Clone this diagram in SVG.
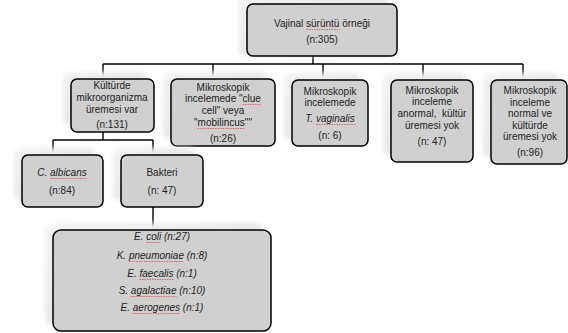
<svg xmlns="http://www.w3.org/2000/svg" width="568" height="333" viewBox="0 0 568 333">
<defs>
<filter id="sh" x="-20%" y="-20%" width="140%" height="140%"><feGaussianBlur stdDeviation="2.5"/></filter>
<linearGradient id="shg" x1="0" y1="0" x2="1" y2="1"><stop offset="0" stop-color="#f4f4f4"/><stop offset="1" stop-color="#dcdcdc"/></linearGradient>
</defs>
<style>
.box{fill:#d0d0d0;stroke:#000;stroke-width:1.5}
.shadow{fill:url(#shg);filter:url(#sh)}
.t{font-family:"Liberation Sans",Arial,sans-serif;font-size:10px;fill:#222;text-anchor:middle}
.i{font-style:italic}
.c{fill:none;stroke:#000;stroke-width:1.4}
.g{fill:none;stroke:#a8a8a8;stroke-width:1}
.sp{fill:none;stroke:#e04848;stroke-width:0.8;stroke-dasharray:1.5 1}
</style>
<g id="connectors">
<path class="c" d="M313,56V64M103,64H523M103,64V79M213,64V79M323,64V80M423,64V80M523,64V80"/>
<path class="c" d="M103,132V140M53,140H153M53,140V155M153,140V155"/>
<path class="c" d="M153,207V230"/>
<path class="g" d="M313,46V56M153,199V207"/>
</g>
<g id="n-root">
<rect class="shadow" x="239" y="-3" width="150" height="59" rx="6"/>
<rect class="box" x="247" y="4" width="150" height="52" rx="6"/>
<text class="t" x="322" y="27">Vajinal sürüntü örneği</text>
<text class="t" x="322" y="43">(n:305)</text>
</g>
<g id="n-kultur">
<rect class="shadow" x="63" y="72" width="83" height="53" rx="6"/>
<rect class="box" x="71" y="79" width="83" height="53" rx="6"/>
<text class="t" x="112" y="89">Kültürde</text>
<text class="t" x="112" y="101">mikroorganizma</text>
<text class="t" x="112" y="113">üremesi var</text>
<text class="t" x="112" y="128">(n:131)</text>
</g>
<g id="n-clue">
<rect class="shadow" x="163" y="72" width="104" height="67" rx="6"/>
<rect class="box" x="171" y="79" width="104" height="67" rx="6"/>
<text class="t" x="223" y="91">Mikroskopik</text>
<text class="t" x="223" y="102">incelemede "clue</text>
<text class="t" x="223" y="114">cell" veya</text>
<text class="t" x="223" y="126">"mobilincus""</text>
<text class="t" x="223" y="142">(n:26)</text>
</g>
<g id="n-vag">
<rect class="shadow" x="284" y="73" width="76" height="66" rx="6"/>
<rect class="box" x="292" y="80" width="76" height="66" rx="6"/>
<text class="t" x="330" y="95">Mikroskopik</text>
<text class="t" x="330" y="106">incelemede</text>
<text class="t i" x="330" y="122">T. vaginalis</text>
<text class="t" x="330" y="139">(n: 6)</text>
</g>
<g id="n-anormal">
<rect class="shadow" x="383" y="73" width="82" height="82" rx="6"/>
<rect class="box" x="391" y="80" width="82" height="82" rx="6"/>
<text class="t" x="432" y="94">Mikroskopik</text>
<text class="t" x="432" y="105">inceleme</text>
<text class="t" x="432" y="117" xml:space="preserve">anormal,  kültür</text>
<text class="t" x="432" y="129">üremesi yok</text>
<text class="t" x="432" y="145">(n: 47)</text>
</g>
<g id="n-normal">
<rect class="shadow" x="483" y="73" width="76" height="84" rx="6"/>
<rect class="box" x="491" y="80" width="76" height="84" rx="6"/>
<text class="t" x="530" y="94">Mikroskopik</text>
<text class="t" x="530" y="106">inceleme</text>
<text class="t" x="530" y="117">normal ve</text>
<text class="t" x="530" y="129">kültürde</text>
<text class="t" x="530" y="140">üremesi yok</text>
<text class="t" x="530" y="156">(n:96)</text>
</g>
<g id="n-albicans">
<rect class="shadow" x="14" y="148" width="81" height="52" rx="6"/>
<rect class="box" x="22" y="155" width="81" height="52" rx="6"/>
<text class="t i" x="62" y="176">C. albicans</text>
<text class="t" x="62" y="194">(n:84)</text>
</g>
<g id="n-bakteri">
<rect class="shadow" x="113" y="148" width="82" height="52" rx="6"/>
<rect class="box" x="121" y="155" width="82" height="52" rx="6"/>
<text class="t" x="162" y="176">Bakteri</text>
<text class="t" x="162" y="194">(n: 47)</text>
</g>
<g id="n-list">
<rect class="shadow" x="45" y="223" width="218" height="102" rx="8"/>
<rect class="box" x="53" y="230" width="218" height="101" rx="8"/>
<text class="t i" x="162" y="240">E. coli (n:27)</text>
<text class="t i" x="162" y="259">K. pneumoniae (n:8)</text>
<text class="t i" x="162" y="277">E. faecalis (n:1)</text>
<text class="t i" x="162" y="294">S. agalactiae (n:10)</text>
<text class="t i" x="162" y="311">E. aerogenes (n:1)</text>
</g>
<g id="spell-marks">
<path class="sp" d="M306.5,29.5H339.8M242.6,104.5H260.9M197.6,128.5H244.8M316.4,124.5H355.3M50.1,178.5H86.8M146.2,242.5H161.2M128.9,261.5H183.9M139.5,279.5H173.4M130.9,296.5H176.5M132.8,313.5H180.1"/>
</g>
</svg>
